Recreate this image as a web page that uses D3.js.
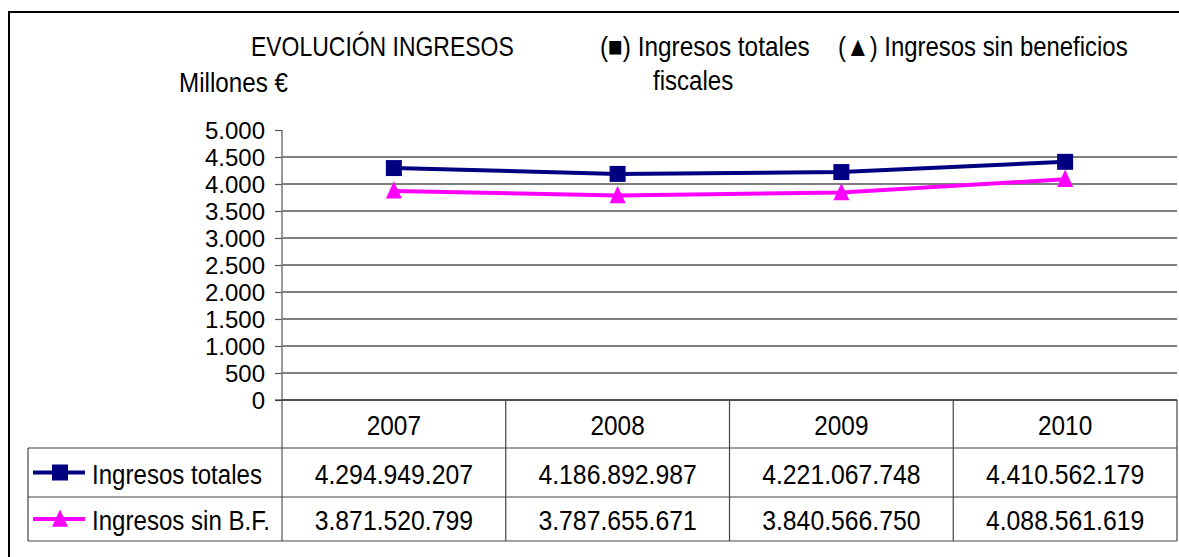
<!DOCTYPE html>
<html>
<head>
<meta charset="utf-8">
<script src="https://cdn.jsdelivr.net/npm/d3@7"></script>
<style>
  body { margin: 0; background: #fff; }
  text { font-family: "Liberation Sans", Arial, sans-serif; font-size: 28px; fill: #000; }
</style>
</head>
<body>
<script>

// data (millions of euros on the chart, full euros in the table)
var years = ['2007', '2008', '2009', '2010'];
var ingresosTotales = [4294949207, 4186892987, 4221067748, 4410562179];
var ingresosSinBF = [3871520799, 3787655671, 3840566750, 4088561619];
var yTicks = [0, 500, 1000, 1500, 2000, 2500, 3000, 3500, 4000, 4500, 5000];
var seriesNames = ['Ingresos totales', 'Ingresos sin B.F.'];

// the original uses a narrow font, so squeeze the text horizontally
function addText(parent, str, x, y, anchor, sx) {
    return parent.append('text').text(str)
        .attr('text-anchor', anchor || 'start')
        .attr('transform', 'translate(' + x + ',' + y + ') scale(' + (sx || 0.86) + ',1)');
}

function plot_it() {

    var width = 1179, height = 557;

    var svg = d3.select("body").append("svg")
        .attr("width", width)
        .attr("height", height);

    // spanish number format: 4.294.949.207
    var es = d3.formatLocale({ decimal: ',', thousands: '.', grouping: [3], currency: ['', ' €'] });
    var fmt = es.format(',d');

    // outer frame (cut off on right and bottom)
    svg.append('path')
        .attr('d', 'M9,' + height + ' L9,12 L' + width + ',12')
        .attr('fill', 'none').attr('stroke', '#000').attr('stroke-width', 2);

    // scales
    var left = 282, right = 1177, top = 130, bottom = 400;
    var x_scale = d3.scaleBand().domain(years).range([left, right]);
    var y_scale = d3.scaleLinear().domain([0, 5000]).range([bottom, top]);
    var xMid = function (yr) { return x_scale(yr) + x_scale.bandwidth() / 2; };

    // gridlines (none at the top value)
    svg.append('g').selectAll('line').data(yTicks.filter(function (d) { return d < 5000; }))
        .enter().append('line')
        .attr('x1', left).attr('x2', right)
        .attr('y1', function (d) { return y_scale(d); })
        .attr('y2', function (d) { return y_scale(d); })
        .attr('stroke', '#000').attr('stroke-width', 1.2);

    // y axis
    var y_axis = svg.append('g')
        .attr('transform', 'translate(' + left + ',0)')
        .call(d3.axisLeft(y_scale).tickValues(yTicks).tickSize(7).tickFormat(fmt));
    y_axis.attr('font-size', null).attr('font-family', null);
    y_axis.select('.domain').remove();
    y_axis.selectAll('line').attr('stroke', '#555').attr('stroke-width', 1.2);
    y_axis.selectAll('text')
        .attr('x', -17).attr('dy', '0.35em')
        .style('font-size', '24px');

    svg.append('line')
        .attr('x1', left).attr('x2', left).attr('y1', top).attr('y2', 541)
        .attr('stroke', '#777').attr('stroke-width', 1.5);

    // titles
    addText(svg, 'EVOLUCIÓN INGRESOS', 251, 56, 'start', 0.82);
    addText(svg, 'Millones €', 179, 92, 'start', 0.865);
    addText(svg, '(\u25A0) Ingresos totales', 600, 56, 'start', 0.87);
    addText(svg, 'fiscales', 653, 90, 'start', 0.86);
    addText(svg, '(\u25B2) Ingresos sin beneficios', 838, 56, 'start', 0.855);

    // lines
    var colors = ['#000080', '#FF00FF'];
    var series = [ingresosTotales, ingresosSinBF];

    var lineGenerator = d3.line()
        .x(function (d, i) { return xMid(years[i]); })
        .y(function (d) { return y_scale(d / 1e6); });

    series.forEach(function (s, k) {
        svg.append('path')
            .attr('d', lineGenerator(s))
            .attr('fill', 'none').attr('stroke', colors[k]).attr('stroke-width', 4);
    });

    // markers: 16px square, tall triangle
    var tallTriangle = {
        draw: function (ctx, size) {
            var w = Math.sqrt(size) / 2, h = w * 1.2;
            ctx.moveTo(0, -h);
            ctx.lineTo(w, h * 0.8);
            ctx.lineTo(-w, h * 0.8);
            ctx.closePath();
        }
    };
    var square = d3.symbol().type(d3.symbolSquare).size(256);
    var triangle = d3.symbol().type(tallTriangle).size(256);
    var shapes = [square, triangle];

    series.forEach(function (s, k) {
        svg.append('g').selectAll('path').data(s).enter().append('path')
            .attr('d', shapes[k])
            .attr('transform', function (d, i) {
                return 'translate(' + xMid(years[i]) + ',' + y_scale(d / 1e6) + ')';
            })
            .attr('fill', colors[k]);
    });

    // data table
    var rowY = [400, 448, 497, 541];
    var tableLeft = 28;
    var tbl = svg.append('g').attr('stroke', '#444').attr('stroke-width', 1.2);

    tbl.append('line').attr('x1', 275).attr('x2', right).attr('y1', rowY[0]).attr('y2', rowY[0]).attr('stroke', '#222');
    for (var r = 1; r < rowY.length; r++) {
        tbl.append('line').attr('x1', tableLeft).attr('x2', right).attr('y1', rowY[r]).attr('y2', rowY[r]);
    }
    tbl.append('line').attr('x1', tableLeft).attr('x2', tableLeft).attr('y1', rowY[1]).attr('y2', rowY[3]);
    years.forEach(function (yr) {
        tbl.append('line').attr('x1', x_scale(yr) + x_scale.bandwidth()).attr('x2', x_scale(yr) + x_scale.bandwidth())
            .attr('y1', rowY[0]).attr('y2', rowY[3]);
    });

    // header years
    years.forEach(function (yr) {
        addText(svg, yr, xMid(yr), 435, 'middle', 0.87);
    });

    // rows
    series.forEach(function (s, k) {
        var cy = (rowY[k + 1] + rowY[k + 2]) / 2;
        svg.append('line').attr('x1', 33).attr('x2', 85).attr('y1', cy).attr('y2', cy)
            .attr('stroke', colors[k]).attr('stroke-width', 4);
        svg.append('path').attr('d', shapes[k]).attr('fill', colors[k])
            .attr('transform', 'translate(60,' + cy + ')');
        addText(svg, seriesNames[k], 92, cy + 11, 'start', 0.86);

        s.forEach(function (d, i) {
            addText(svg, fmt(d), xMid(years[i]), cy + 11, 'middle', 0.885);
        });
    });
}

plot_it();
</script>
</body>
</html>
